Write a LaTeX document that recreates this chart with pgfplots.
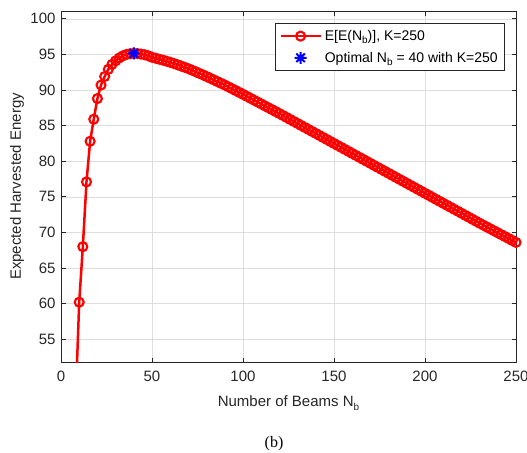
\documentclass[border=0pt]{standalone}
\usepackage{fontspec}
\setmainfont{Liberation Sans}
\newfontfamily\seriffont{Liberation Serif}
\usepackage{pgfplots}
\pgfplotsset{compat=1.18}
\usetikzlibrary{calc}
\definecolor{axgray}{gray}{0.15}
\definecolor{gridgray}{gray}{0.87}
\pgfdeclareplotmark{ast8}{%
  \pgfpathmoveto{\pgfqpoint{-\pgfplotmarksize}{0pt}}\pgfpathlineto{\pgfqpoint{\pgfplotmarksize}{0pt}}%
  \pgfpathmoveto{\pgfqpoint{0pt}{-\pgfplotmarksize}}\pgfpathlineto{\pgfqpoint{0pt}{\pgfplotmarksize}}%
  \pgfpathmoveto{\pgfqpoint{-0.7071\pgfplotmarksize}{-0.7071\pgfplotmarksize}}\pgfpathlineto{\pgfqpoint{0.7071\pgfplotmarksize}{0.7071\pgfplotmarksize}}%
  \pgfpathmoveto{\pgfqpoint{-0.7071\pgfplotmarksize}{0.7071\pgfplotmarksize}}\pgfpathlineto{\pgfqpoint{0.7071\pgfplotmarksize}{-0.7071\pgfplotmarksize}}%
  \pgfusepathqstroke}
\newcommand{\sub}[1]{\raisebox{-0.45ex}{\fontsize{10}{12}\selectfont #1}}
\pgfplotsset{
  leglinemark/.style={legend image code/.code={\draw[mark repeat=2,mark phase=2,##1] plot coordinates {(0pt,0pt) (20pt,0pt) (40pt,0pt)};}},
  legmarkonly/.style={legend image code/.code={\draw[##1] plot coordinates {(20pt,0pt)};}},
}
\begin{document}
\begin{tikzpicture}
\begin{axis}[
  scale only axis, width=455pt, height=351pt,
  xmin=0, xmax=250, ymin=51.8, ymax=101.1,
  xtick={0,50,...,250}, ytick={55,60,...,100},
  grid=major, major grid style={gridgray, line width=0.6pt},
  axis line style={axgray, line width=0.8pt},
  tick style={axgray, line width=0.8pt},
  tick align=inside, major tick length=4.5pt,
  /pgf/number format/assume math mode=true,
  ticklabel style={font=\fontsize{15}{18}\selectfont, text=axgray},
  xticklabel style={yshift=-5pt},
  yticklabel style={xshift=-2pt},
  xlabel={Number of Beams N\sub{b}},
  ylabel={Expected Harvested Energy},
  every axis x label/.style={at={($(axis description cs:0.5,0)+(0pt,-44.5pt)$)}, anchor=base, font=\fontsize{15}{18}\selectfont, text=axgray},
  every axis y label/.style={at={($(axis description cs:0,0.5)+(-40pt,0pt)$)}, rotate=90, anchor=base, font=\fontsize{15}{18}\selectfont, text=axgray},
  legend style={at={($(axis description cs:1,1)+(-11pt,-12pt)$)}, anchor=north east,
    font=\fontsize{14}{17}\selectfont, draw=axgray, line width=0.6pt, fill=white,
    legend cell align=left, row sep=4pt, inner sep=4pt,
    nodes={inner sep=3pt}},
]
\addplot[red, line width=2.5pt, forget plot] coordinates {(8,46) (10,60.2)};
\addplot[red, line width=2.5pt, mark=o, mark size=4.5pt, mark options={solid, line width=2.1pt}, leglinemark]
coordinates {
(10,60.2) (12,68.0) (14,77.1) (16,82.8) (18,85.9) (20,88.8) (22,90.7) (24,91.9) (26,92.9) (28,93.6)
(30,94.1) (32,94.5) (34,94.8) (36,95.0) (38,95.1) (40,95.15) (42,95.12) (44,95.05) (46,94.95) (48,94.8)
(50,94.6) (52,94.47) (54,94.33) (56,94.2) (58,94.05) (60,93.9) (62,93.73) (64,93.55) (66,93.37) (68,93.19)
(70,93.0) (72,92.79) (74,92.57) (76,92.35) (78,92.13) (80,91.9) (82,91.66) (84,91.42) (86,91.18) (88,90.94)
(90,90.7) (92,90.44) (94,90.18) (96,89.92) (98,89.66) (100,89.4) (102,89.13) (104,88.86) (106,88.59) (108,88.32)
(110,88.05) (112,87.78) (114,87.51) (116,87.24) (118,86.97) (120,86.7) (122,86.42) (124,86.14) (126,85.86) (128,85.58)
(130,85.3) (132,85.02) (134,84.74) (136,84.46) (138,84.18) (140,83.9) (142,83.62) (144,83.34) (146,83.06) (148,82.78)
(150,82.5) (152,82.22) (154,81.94) (156,81.66) (158,81.38) (160,81.1) (162,80.82) (164,80.54) (166,80.26) (168,79.98)
(170,79.7) (172,79.42) (174,79.14) (176,78.86) (178,78.58) (180,78.3) (182,78.02) (184,77.74) (186,77.46) (188,77.18)
(190,76.9) (192,76.62) (194,76.34) (196,76.06) (198,75.78) (200,75.5) (202,75.22) (204,74.94) (206,74.66) (208,74.38)
(210,74.1) (212,73.82) (214,73.54) (216,73.26) (218,72.98) (220,72.7) (222,72.42) (224,72.14) (226,71.86) (228,71.58)
(230,71.3) (232,71.03) (234,70.76) (236,70.49) (238,70.22) (240,69.95) (242,69.68) (244,69.41) (246,69.14) (248,68.87)
(250,68.6)
};
\addlegendentry{E[E(N\sub{b})], K=250}
\addplot[blue, only marks, mark=ast8, mark size=6pt, mark options={line width=2pt}, legmarkonly]
coordinates {(40,95.15)};
\addlegendentry{Optimal N\sub{b} = 40 with K=250}
\end{axis}
\node[font=\seriffont\fontsize{16}{19}\selectfont, anchor=center] at ($(current axis.south west)+(213pt,-82pt)$) {(b)};
\pgfresetboundingbox
\path ($(current axis.south west)+(-61pt,-90pt)$) rectangle ($(current axis.north east)+(11pt,11pt)$);
\end{tikzpicture}
\end{document}
